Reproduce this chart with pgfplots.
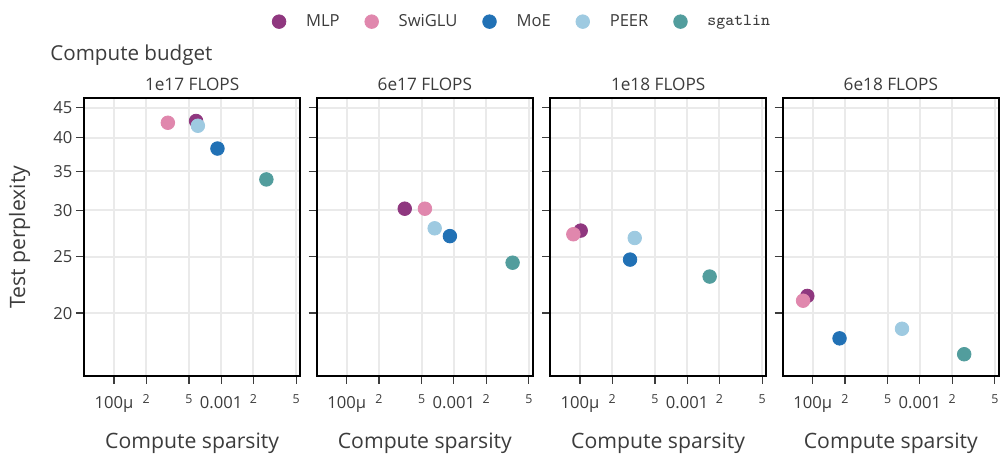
\documentclass[border=0pt]{standalone}
\usepackage{fontspec}
\setmainfont{Open Sans}
\usepackage{pgfplots}
\pgfplotsset{compat=1.18}
\definecolor{cMLP}{RGB}{143,55,127}
\definecolor{cSwi}{RGB}{224,135,173}
\definecolor{cMoE}{RGB}{33,113,181}
\definecolor{cPEER}{RGB}{158,202,225}
\definecolor{cSga}{RGB}{82,157,157}
\definecolor{txt}{RGB}{60,60,60}
\definecolor{gridc}{RGB}{234,234,234}
\newcommand{\sm}[1]{\raisebox{2.5bp}{\fontsize{6.2bp}{7bp}\selectfont #1}}
\pgfplotsset{
  every axis/.append style={
    scale only axis, width=108.15bp, height=138.85bp,
    xmin=5.25e-5, xmax=5.47e-3, ymin=15.6, ymax=46.7,
    xtick={1e-4,2e-4,5e-4,1e-3,2e-3,5e-3},
    xticklabels={100μ,\sm{2},\sm{5},0.001,\sm{2},\sm{5}},
    ytick={20,25,30,35,40,45},
    tick pos=left, tick align=outside,
    major tick length=4bp,
    every tick/.style={draw=txt, line width=0.6bp},
    grid=major, major grid style={draw=gridc, line width=1bp},
    axis line style={draw=black, line width=0.9bp},
    tick label style={font=\fontsize{8.3bp}{10bp}\selectfont, text=txt, inner sep=0pt},
    xticklabel style={anchor=base, yshift=-12.35bp},
    yticklabel style={anchor=east, xshift=-1.6bp},
    title style={at={(0.5,1)}, anchor=base, yshift=-1.85bp, inner sep=0pt,
      font=\fontsize{8.6bp}{10bp}\selectfont, text=txt},
    xlabel={Compute sparsity},
    xlabel style={at={(axis description cs:0.5,0)}, anchor=base, yshift=-36.5bp,
      inner sep=0pt, font=\fontsize{10.6bp}{12bp}\selectfont, text=txt},
    cycle list={
      {cMLP, only marks, mark=*, mark size=3.4bp, mark options={line width=0.4bp, draw=cMLP, fill=cMLP}},
      {cSwi, only marks, mark=*, mark size=3.4bp, mark options={line width=0.4bp, draw=cSwi, fill=cSwi}},
      {cMoE, only marks, mark=*, mark size=3.4bp, mark options={line width=0.4bp, draw=cMoE, fill=cMoE}},
      {cPEER, only marks, mark=*, mark size=3.4bp, mark options={line width=0.4bp, draw=cPEER, fill=cPEER}},
      {cSga, only marks, mark=*, mark size=3.4bp, mark options={line width=0.4bp, draw=cSga, fill=cSga}}
    },
  },
}
\begin{document}
\begin{tikzpicture}
\useasboundingbox (0,0) rectangle (500bp,227bp);
% panel 1
\begin{loglogaxis}[at={(42bp,39bp)}, anchor=south west, title={1e17 FLOPS},
  yticklabels={20,25,30,35,40,45},
  legend columns=5,
  legend style={at={(axis description cs:0.8705,1.276)}, anchor=west,
    draw=none, fill=none, inner sep=0pt, outer sep=0pt,
    font=\fontsize{8.3bp}{10bp}\selectfont, text=txt,
    nodes={inner sep=0pt},
    /tikz/every odd column/.append style={column sep=10.1bp},
    /tikz/every even column/.append style={column sep=12.6bp}},
  ]
\addplot coordinates {(5.83e-4,42.7)};
\addlegendentry{MLP}
\addplot coordinates {(3.18e-4,42.4)};
\addlegendentry{SwiGLU}
\addplot coordinates {(9.23e-4,38.3)};
\addlegendentry{MoE}
\addplot coordinates {(6.06e-4,41.9)};
\addlegendentry{PEER}
\addplot coordinates {(2.64e-3,33.9)};
\addlegendentry{\ttfamily\fontsize{8.4bp}{10bp}\selectfont sgatlin}
\end{loglogaxis}
% panel 2
\begin{loglogaxis}[at={(158.35bp,39bp)}, anchor=south west, title={6e17 FLOPS}, yticklabels={}]
\addplot coordinates {(3.48e-4,30.2)};
\addplot coordinates {(5.37e-4,30.2)};
\addplot coordinates {(9.18e-4,27.1)};
\addplot coordinates {(6.62e-4,27.95)};
\addplot coordinates {(3.53e-3,24.4)};
\end{loglogaxis}
% panel 3
\begin{loglogaxis}[at={(275bp,39bp)}, anchor=south west, title={1e18 FLOPS}, yticklabels={}]
\addplot coordinates {(1.015e-4,27.7)};
\addplot coordinates {(8.67e-5,27.3)};
\addplot coordinates {(2.93e-4,24.7)};
\addplot coordinates {(3.24e-4,26.9)};
\addplot coordinates {(1.62e-3,23.1)};
\end{loglogaxis}
% panel 4
\begin{loglogaxis}[at={(391.35bp,39bp)}, anchor=south west, title={6e18 FLOPS}, yticklabels={}]
\addplot coordinates {(8.91e-5,21.4)};
\addplot coordinates {(8.13e-5,21.0)};
\addplot coordinates {(1.78e-4,18.1)};
\addplot coordinates {(6.81e-4,18.8)};
\addplot coordinates {(2.59e-3,17.0)};
\end{loglogaxis}
\node[anchor=base, rotate=90, inner sep=0pt, text=txt,
  font=\fontsize{10.6bp}{12bp}\selectfont] at (12.5bp,108.4bp) {Test perplexity};
\node[anchor=base west, inner sep=0pt, text=txt,
  font=\fontsize{10.3bp}{12bp}\selectfont] at (25bp,196.5bp) {Compute budget};
\end{tikzpicture}
\end{document}
